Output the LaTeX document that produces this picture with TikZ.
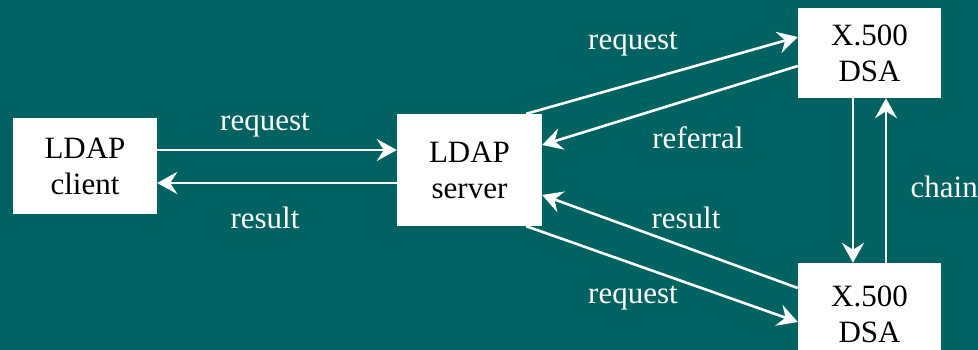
\documentclass[tikz,border=0pt]{standalone}
\usepackage{fontspec}
\setmainfont{Liberation Serif}
\usetikzlibrary{arrows.meta}
\definecolor{bgteal}{RGB}{0,99,97}
\begin{document}
\begin{tikzpicture}[x=1pt,y=-1pt,
  box/.style={fill=white,draw=none,inner sep=0pt,align=center,text=black,
    font=\fontsize{31}{36}\selectfont},
  lbl/.style={text=white,inner sep=0pt,font=\fontsize{31}{36}\selectfont},
  arr/.style={draw=white,line width=2.6pt,-{Stealth[length=20pt,width=22pt,inset=7pt]}}]
\fill[bgteal] (0,0) rectangle (978,350);
\useasboundingbox (0,0) rectangle (978,350);
\begin{scope}
\clip (0,0) rectangle (978,350);
\node[box,minimum width=144pt,minimum height=96pt] (client) at (85,166) {LDAP\\client};
\node[box,minimum width=145pt,minimum height=112pt] (server) at (469.5,170) {LDAP\\server};
\node[box,minimum width=143pt,minimum height=90pt] (dsa1) at (869.5,53) {X.500\\DSA};
\node[box,minimum width=143pt,minimum height=102pt] (dsa2) at (869.5,314) {X.500\\DSA};
\end{scope}

\draw[arr] ([yshift=16pt]client.east) -- ([yshift=16pt]client.east -| server.west);
\draw[arr] ([yshift=-13pt]server.west) -- ([yshift=-13pt]server.west -| client.east);
\draw[arr] ([xshift=-16pt]server.north east) -- ([yshift=16pt]dsa1.west);
\draw[arr] ([yshift=-13pt]dsa1.west) -- ([yshift=25pt]server.east);
\draw[arr] ([yshift=26pt]dsa2.west) -- ([yshift=-25pt]server.east);
\draw[arr] ([xshift=-16pt]server.south east) -- ([yshift=-8pt]dsa2.west);
\draw[arr] ([xshift=-16.5pt]dsa1.south) -- ([xshift=-16.5pt]dsa2.north);
\draw[arr] ([xshift=16.5pt]dsa2.north) -- ([xshift=16.5pt]dsa1.south);

\node[lbl] (l1) at (265,125) {request};
\node[lbl] (l2) at (265,218) {result};
\node[lbl] (l3) at (633,44) {request};
\node[lbl] (l4) at (698,138) {referral};
\node[lbl] (l5) at (686,218) {result};
\node[lbl] (l6) at (633,298) {request};
\node[lbl,anchor=east] (l7) at (978,187) {chain};
\end{tikzpicture}
\end{document}
